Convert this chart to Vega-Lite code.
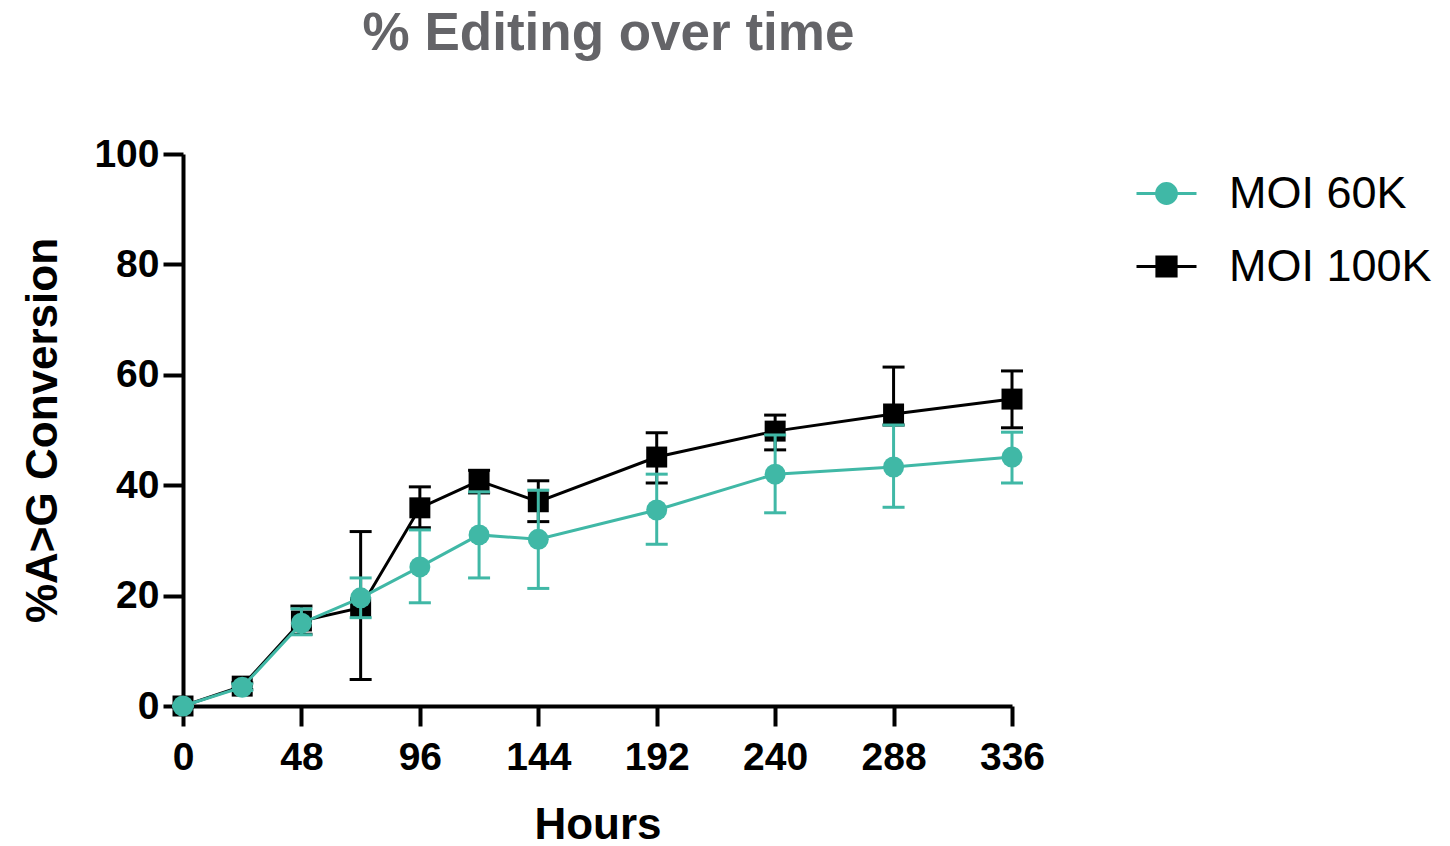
{
  "$schema": "https://vega.github.io/schema/vega-lite/v6.json",
  "width": 829,
  "height": 552,
  "autosize": "none",
  "padding": {"left": 183, "top": 154, "right": 438, "bottom": 140},
  "background": "white",
  "title": {"text": "% Editing over time", "fontSize": 53, "fontWeight": "bold", "font": "Liberation Sans", "color": "#646468", "anchor": "middle", "frame": "group", "dx": 11, "offset": 74},
  "data": {"values": [
    {"series": "MOI 60K", "hours": 0, "mean": 0, "lo": 0, "hi": 0},
    {"series": "MOI 60K", "hours": 24, "mean": 3.4, "lo": 2.8, "hi": 4.0},
    {"series": "MOI 60K", "hours": 48, "mean": 15.0, "lo": 12.9, "hi": 17.6},
    {"series": "MOI 60K", "hours": 72, "mean": 19.6, "lo": 16.0, "hi": 23.2},
    {"series": "MOI 60K", "hours": 96, "mean": 25.2, "lo": 18.7, "hi": 31.9},
    {"series": "MOI 60K", "hours": 120, "mean": 31.0, "lo": 23.2, "hi": 38.8},
    {"series": "MOI 60K", "hours": 144, "mean": 30.2, "lo": 21.3, "hi": 39.1},
    {"series": "MOI 60K", "hours": 192, "mean": 35.5, "lo": 29.3, "hi": 42.0},
    {"series": "MOI 60K", "hours": 240, "mean": 42.0, "lo": 35.0, "hi": 49.1},
    {"series": "MOI 60K", "hours": 288, "mean": 43.3, "lo": 36.0, "hi": 50.9},
    {"series": "MOI 60K", "hours": 336, "mean": 45.1, "lo": 40.4, "hi": 49.6},
    {"series": "MOI 100K", "hours": 0, "mean": 0, "lo": 0, "hi": 0},
    {"series": "MOI 100K", "hours": 24, "mean": 3.6, "lo": 3.0, "hi": 4.2},
    {"series": "MOI 100K", "hours": 48, "mean": 15.4, "lo": 13.0, "hi": 18.1},
    {"series": "MOI 100K", "hours": 72, "mean": 17.8, "lo": 4.8, "hi": 31.6},
    {"series": "MOI 100K", "hours": 96, "mean": 35.9, "lo": 32.3, "hi": 39.7},
    {"series": "MOI 100K", "hours": 120, "mean": 40.8, "lo": 38.6, "hi": 42.7},
    {"series": "MOI 100K", "hours": 144, "mean": 37.0, "lo": 33.4, "hi": 40.8},
    {"series": "MOI 100K", "hours": 192, "mean": 45.1, "lo": 40.4, "hi": 49.5},
    {"series": "MOI 100K", "hours": 240, "mean": 49.8, "lo": 46.4, "hi": 52.7},
    {"series": "MOI 100K", "hours": 288, "mean": 52.9, "lo": 50.9, "hi": 61.4},
    {"series": "MOI 100K", "hours": 336, "mean": 55.6, "lo": 50.4, "hi": 60.7}
  ]},
  "encoding": {
    "x": {"field": "hours", "type": "quantitative", "title": "Hours",
      "scale": {"domain": [0, 336], "nice": false},
      "axis": {"values": [0, 48, 96, 144, 192, 240, 288, 336], "labelPadding": 12, "titlePadding": 26, "labelFlush": false, "labelOverlap": false}},
    "y": {"field": "mean", "type": "quantitative", "title": "%A>G Conversion",
      "scale": {"domain": [0, 100], "nice": false},
      "axis": {"values": [0, 20, 40, 60, 80, 100], "labelPadding": 4, "titlePadding": 28, "labelFlush": false, "labelOverlap": false}}
  },
  "layer": [
    {
      "transform": [{"filter": "datum.series === 'MOI 100K'"}],
      "layer": [
        {"mark": {"type": "line", "color": "#000000", "strokeWidth": 3}, "encoding": {}},
        {"mark": {"type": "rule", "color": "#000000", "strokeWidth": 3}, "encoding": {"y": {"field": "lo", "type": "quantitative", "title": "%A>G Conversion"}, "y2": {"field": "hi"}}},
        {"mark": {"type": "tick", "orient": "horizontal", "color": "#000000", "thickness": 3, "size": 22, "opacity": 1}, "encoding": {"y": {"field": "lo", "type": "quantitative", "title": "%A>G Conversion"}}},
        {"mark": {"type": "tick", "orient": "horizontal", "color": "#000000", "thickness": 3, "size": 22, "opacity": 1}, "encoding": {"y": {"field": "hi", "type": "quantitative", "title": "%A>G Conversion"}}},
        {"mark": {"type": "point", "shape": "square", "filled": true, "color": "#000000", "opacity": 1, "size": 440}, "encoding": {}}
      ]
    },
    {
      "transform": [{"filter": "datum.series === 'MOI 60K'"}],
      "layer": [
        {"mark": {"type": "line", "color": "#40B8A6", "strokeWidth": 3}, "encoding": {}},
        {"mark": {"type": "rule", "color": "#40B8A6", "strokeWidth": 3}, "encoding": {"y": {"field": "lo", "type": "quantitative", "title": "%A>G Conversion"}, "y2": {"field": "hi"}}},
        {"mark": {"type": "tick", "orient": "horizontal", "color": "#40B8A6", "thickness": 3, "size": 22, "opacity": 1}, "encoding": {"y": {"field": "lo", "type": "quantitative", "title": "%A>G Conversion"}}},
        {"mark": {"type": "tick", "orient": "horizontal", "color": "#40B8A6", "thickness": 3, "size": 22, "opacity": 1}, "encoding": {"y": {"field": "hi", "type": "quantitative", "title": "%A>G Conversion"}}},
        {"mark": {"type": "point", "shape": "circle", "filled": true, "color": "#40B8A6", "opacity": 1, "size": 440}, "encoding": {}}
      ]
    },
    {
      "mark": {"type": "point", "filled": true, "opacity": 0, "size": 3600, "strokeWidth": 3},
      "encoding": {
        "fill": {"field": "series", "type": "nominal", "scale": {"domain": ["MOI 60K", "MOI 100K"], "range": ["#40B8A6", "#000000"]},
          "legend": {"title": null, "orient": "none", "legendX": 952, "legendY": 8, "padding": 0, "labelFont": "Liberation Sans", "labelFontSize": 45, "labelColor": "#000000", "labelOffset": 31, "rowPadding": 18, "symbolSize": 3600, "symbolStrokeWidth": 3, "symbolOpacity": 1, "labelLimit": 400}},
        "stroke": {"field": "series", "type": "nominal", "scale": {"domain": ["MOI 60K", "MOI 100K"], "range": ["#40B8A6", "#000000"]},
          "legend": {"title": null, "orient": "none", "legendX": 952, "legendY": 8, "padding": 0, "labelFont": "Liberation Sans", "labelFontSize": 45, "labelColor": "#000000", "labelOffset": 31, "rowPadding": 18, "symbolSize": 3600, "symbolStrokeWidth": 3, "symbolOpacity": 1, "labelLimit": 400}},
        "shape": {"field": "series", "type": "nominal", "scale": {"domain": ["MOI 60K", "MOI 100K"], "range": ["M-1,0H-0.33M0.33,0H1M-0.33,0A0.33,0.33,0,1,0,0.33,0A0.33,0.33,0,1,0,-0.33,0Z", "M-1,0H-0.32M0.32,0H1M-0.32,-0.32H0.32V0.32H-0.32Z"]},
          "legend": {"title": null, "orient": "none", "legendX": 952, "legendY": 8, "padding": 0, "labelFont": "Liberation Sans", "labelFontSize": 45, "labelColor": "#000000", "labelOffset": 31, "rowPadding": 18, "symbolSize": 3600, "symbolStrokeWidth": 3, "symbolOpacity": 1, "labelLimit": 400}}
      }
    }
  ],
  "config": {
    "view": {"stroke": null},
    "font": "Liberation Sans",
    "axis": {"grid": false, "domainColor": "#000000", "domainWidth": 4, "tickColor": "#000000", "tickWidth": 4, "tickSize": 20,
      "labelFont": "Liberation Sans", "labelFontSize": 39, "labelFontWeight": "bold", "labelColor": "#000000",
      "titleFont": "Liberation Sans", "titleFontSize": 44, "titleFontWeight": "bold", "titleColor": "#000000"}
  }
}
